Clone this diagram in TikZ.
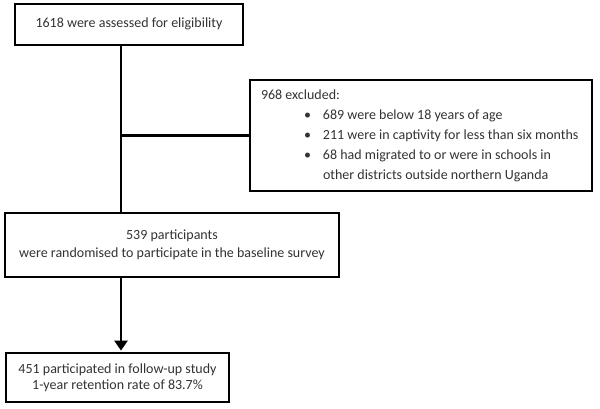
\documentclass[tikz,border=0pt]{standalone}
\usepackage{fontspec}
\setmainfont{Carlito}
\usetikzlibrary{arrows.meta}
\definecolor{txt}{HTML}{333333}
\newcommand\bitem[1]{\hspace*{43pt}\makebox[19pt][l]{\textbullet}#1}
\begin{document}
\begin{tikzpicture}[x=1pt,y=-1pt,
  box/.style={draw=black,line width=2.8pt,fill=white,inner sep=0pt,text=txt,align=center,font=\fontsize{14}{18}\selectfont},
  conn/.style={line width=2.8pt,draw=black}]
\useasboundingbox (0,0) rectangle (600,408);
\node[box,minimum width=228pt,minimum height=41pt] (b1) at (129,24.5) {\raisebox{3pt}{1618 were assessed for eligibility}};
\node[box,minimum width=342pt,minimum height=111pt,align=left,font=\fontsize{14}{20}\selectfont] (b2) at (421,135.5) {%
\parbox{320pt}{968 excluded:\\
\bitem{689 were below 18 years of age}\\
\bitem{211 were in captivity for less than six months}\\
\bitem{68 had migrated to or were in schools in}\\
\hspace*{62pt}other districts outside northern Uganda}};
\node[box,minimum width=334pt,minimum height=64pt] (b3) at (172,245) {\raisebox{-3pt}{\parbox{330pt}{\centering 539 participants\\were randomised to participate in the baseline survey}}};
\node[box,minimum width=223pt,minimum height=49pt,font=\fontsize{14}{16}\selectfont] (b4) at (117.5,377.5) {\raisebox{-2pt}{\parbox{220pt}{\centering 451 participated in follow-up study\\1-year retention rate of 83.7\%}}};
\coordinate (vx) at (121,0);
\draw[conn] (b1.south -| vx) -- (b3.north -| vx);
\draw[conn] (b2.west) -- (b2.west -| vx);
\draw[conn,-{Triangle[length=10pt,width=13pt]}] (b3.south -| vx) -- ([yshift=1pt]b4.north -| vx);
\end{tikzpicture}
\end{document}
